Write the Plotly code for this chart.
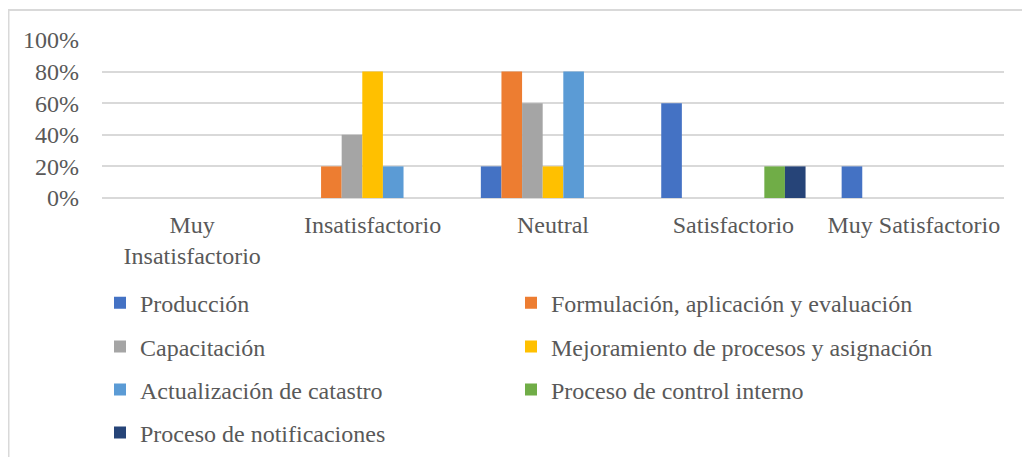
import plotly.graph_objects as go

categorias = ["Muy Insatisfactorio", "Insatisfactorio", "Neutral", "Satisfactorio", "Muy Satisfactorio"]
etiquetas_x = ["Muy<br>Insatisfactorio", "Insatisfactorio", "Neutral", "Satisfactorio", "Muy Satisfactorio"]

produccion = [0, 0, 0.2, 0.6, 0.2]
formulacion = [0, 0.2, 0.8, 0, 0]
capacitacion = [0, 0.4, 0.6, 0, 0]
mejoramiento = [0, 0.8, 0.2, 0, 0]
actualizacion = [0, 0.2, 0.8, 0, 0]
control_interno = [0, 0, 0, 0.2, 0]
notificaciones = [0, 0, 0, 0.2, 0]

nombres = ["Producción", "Formulación, aplicación y evaluación", "Capacitación",
           "Mejoramiento de procesos y asignación", "Actualización de catastro",
           "Proceso de control interno", "Proceso de notificaciones"]
valores = [produccion, formulacion, capacitacion, mejoramiento, actualizacion,
           control_interno, notificaciones]
colores = ["#4472C4", "#ED7D31", "#A5A5A5", "#FFC000", "#5B9BD5", "#70AD47", "#264478"]

fuente = dict(family="Liberation Serif, Times New Roman, serif", size=24, color="#595959")

# la página tiene 8px de margen en el body: todo va desplazado 8px
L, T, W, H = 94, 32, 902, 158
ancho, alto = 1030, 457

fig = go.Figure()
leyendas = {}
filas_y = [-0.665, -0.943, -1.215, -1.487]
columnas_x = [(92 - L) / W, (503 - L) / W]
for i, (nombre, serie, color) in enumerate(zip(nombres, valores, colores)):
    clave = "legend" if i == 0 else "legend%d" % (i + 1)
    fig.add_trace(go.Bar(x=categorias, y=serie, name=nombre,
                         marker_color=color, marker_line_width=0,
                         legend=clave))
    leyendas[clave] = dict(x=columnas_x[i % 2], xanchor="left",
                           y=filas_y[i // 2], yanchor="middle",
                           font=fuente, bgcolor="rgba(0,0,0,0)")

fig.update_layout(
    width=ancho, height=alto,
    margin=dict(l=L, r=ancho - L - W, t=T, b=alto - T - H, autoexpand=False),
    paper_bgcolor="white", plot_bgcolor="white",
    barmode="group", bargap=0.2, bargroupgap=0,
    font=fuente,
    showlegend=True,
    **leyendas,
)

fig.update_xaxes(tickvals=categorias, ticktext=etiquetas_x, showgrid=False,
                 showline=False, ticks="", tickfont=fuente, ticklabelstandoff=10,
                 automargin=False)
fig.update_yaxes(range=[0, 1], dtick=0.2, tickformat=".0%", showgrid=True,
                 gridcolor="#D9D9D9", gridwidth=1.5, zeroline=True,
                 zerolinecolor="#D9D9D9", zerolinewidth=1.5, ticks="",
                 ticklabelstandoff=22, tickfont=fuente, automargin=False)

# borde del área del gráfico
fig.add_shape(type="rect", xref="paper", yref="paper",
              x0=(0.5 - L) / W, x1=(1040 - L) / W,
              y0=(T + H - 470) / H, y1=(T + H - 2) / H,
              line=dict(color="#D9D9D9", width=2), fillcolor="rgba(0,0,0,0)", layer="below")

fig.write_html("out.html")
